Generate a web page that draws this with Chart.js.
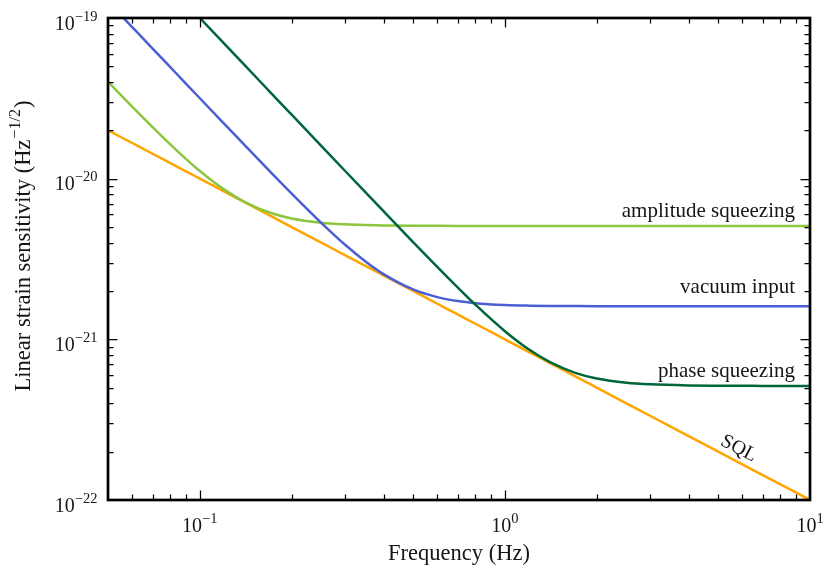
<!DOCTYPE html>
<html><head><meta charset="utf-8">
<script src="https://cdn.jsdelivr.net/npm/chart.js@4.4.0/dist/chart.umd.min.js"></script>
<style>html,body{margin:0;padding:0;background:#fff;}canvas{display:block;}</style>
</head><body>
<canvas id="c" width="825" height="565"></canvas>
<script>
// ---- data ----
const freqs = [0.05,0.06,0.07,0.08,0.09,0.1,0.12,0.14,0.17,0.2,0.25,0.3,0.35,0.4,0.5,0.6,0.7,0.8,1,1.2,1.4,1.7,2,2.5,3,4,5,7,10];
const sqlStrain = [20e-21,16.67e-21,14.29e-21,12.5e-21,11.11e-21,10e-21,8.333e-21,7.143e-21,5.882e-21,5e-21,4e-21,3.333e-21,2.857e-21,2.5e-21,2e-21,1.667e-21,1.429e-21,1.25e-21,1e-21,0.8333e-21,0.7143e-21,0.5882e-21,0.5e-21,0.4e-21,0.3333e-21,0.25e-21,0.2e-21,0.1429e-21,0.1e-21];
const vacuumStrain = [126.5e-21,87.86e-21,64.56e-21,49.44e-21,39.07e-21,31.66e-21,22.02e-21,16.21e-21,11.06e-21,8.067e-21,5.309e-21,3.863e-21,3.040e-21,2.547e-21,2.045e-21,1.831e-21,1.731e-21,1.680e-21,1.637e-21,1.621e-21,1.614e-21,1.610e-21,1.608e-21,1.607e-21,1.607e-21,1.606e-21,1.606e-21,1.606e-21,1.606e-21];
const amplitudeStrain = [40.12e-21,28.10e-21,20.93e-21,16.36e-21,13.29e-21,11.17e-21,8.574e-21,7.180e-21,6.135e-21,5.654e-21,5.321e-21,5.196e-21,5.142e-21,5.115e-21,5.093e-21,5.085e-21,5.081e-21,5.080e-21,5.078e-21,5.078e-21,5.077e-21,5.077e-21,5.077e-21,5.077e-21,5.077e-21,5.077e-21,5.077e-21,5.077e-21,5.077e-21];
const phaseStrain = [400e-21,277.8e-21,204.1e-21,156.2e-21,123.5e-21,100.0e-21,69.45e-21,51.02e-21,34.61e-21,25.01e-21,16.01e-21,11.12e-21,8.179e-21,6.271e-21,4.033e-21,2.825e-21,2.104e-21,1.644e-21,1.124e-21,0.8633e-21,0.7234e-21,0.6186e-21,0.5705e-21,0.5372e-21,0.5248e-21,0.5166e-21,0.5144e-21,0.5132e-21,0.5128e-21];

const xTickExponents = [-1, 0, 1];
const yTickExponents = [-22, -21, -20, -19];
const xRange = [0.05, 10];
const yRange = [1e-22, 1e-19];
const seriesNames = ['SQL', 'vacuum input', 'amplitude squeezing', 'phase squeezing'];
const xTitle = 'Frequency (Hz)';
const yTitleMain = 'Linear strain sensitivity (Hz';
const yTitleSup = '\u22121/2';
const yTitleEnd = ')';

const FONT = "'Liberation Serif','DejaVu Serif',serif";
const INK = '#161616';

function pts(vals){ return freqs.map((f,i)=>({x:f, y:vals[i]})); }

const inkPlugin = {
  id: 'ink',
  afterDatasetsDraw(chart){
    const {ctx, chartArea:a, scales:{x, y}} = chart;
    ctx.save();
    ctx.strokeStyle = '#000';
    ctx.lineWidth = 1.25;
    const majLen = 9.5, minLen = 5.5;
    function xt(v, len){
      const px = Math.round(x.getPixelForValue(v)) + 0.5;
      ctx.beginPath();
      ctx.moveTo(px, a.bottom); ctx.lineTo(px, a.bottom - len);
      ctx.moveTo(px, a.top); ctx.lineTo(px, a.top + len);
      ctx.stroke();
    }
    function yt(v, len){
      const py = Math.round(y.getPixelForValue(v)) + 0.5;
      ctx.beginPath();
      ctx.moveTo(a.left, py); ctx.lineTo(a.left + len, py);
      ctx.moveTo(a.right, py); ctx.lineTo(a.right - len, py);
      ctx.stroke();
    }
    for (let d = -2; d <= 1; d++) {
      for (let m = 1; m <= 9; m++) {
        const v = m * Math.pow(10, d);
        if (v <= xRange[0] * 1.0001 || v >= xRange[1] * 0.9999) continue;
        xt(v, m === 1 ? majLen : minLen);
      }
    }
    for (let d = -22; d <= -20; d++) {
      for (let m = 1; m <= 9; m++) {
        const v = m * Math.pow(10, d);
        if (v <= yRange[0] * 1.0001 || v >= yRange[1] * 0.9999) continue;
        yt(v, m === 1 ? majLen : minLen);
      }
    }
    ctx.lineWidth = 2.7;
    ctx.strokeRect(a.left, a.top, a.right - a.left, a.bottom - a.top);

    // tick labels
    ctx.fillStyle = INK;
    ctx.textBaseline = 'alphabetic';
    ctx.textAlign = 'left';
    const baseF = '20px ' + FONT, supF = '14.5px ' + FONT;
    function pow(e){
      ctx.font = baseF; const wb = ctx.measureText('10').width;
      const s = (e < 0 ? '\u2212' : '') + Math.abs(e);
      ctx.font = supF; const ws = ctx.measureText(s).width;
      return {s, wb, ws};
    }
    xTickExponents.forEach(e => {
      const p = pow(e);
      const cx = x.getPixelForValue(Math.pow(10, e));
      const start = cx - (p.wb + p.ws) / 2;
      ctx.font = baseF; ctx.fillText('10', start, 531.5);
      ctx.font = supF; ctx.fillText(p.s, start + p.wb, 522.5);
    });
    yTickExponents.forEach(e => {
      const p = pow(e);
      const cy = y.getPixelForValue(Math.pow(10, e));
      const start = 97.5 - (p.wb + p.ws);
      ctx.font = baseF; ctx.fillText('10', start, cy + 11.5);
      ctx.font = supF; ctx.fillText(p.s, start + p.wb, cy + 2.5);
    });

    // axis titles
    ctx.font = '22.5px ' + FONT;
    ctx.textAlign = 'center';
    ctx.fillText(xTitle, (a.left + a.right) / 2, 560);

    ctx.save();
    ctx.translate(29.5, 246);
    ctx.rotate(-Math.PI / 2);
    ctx.textAlign = 'left';
    ctx.font = '22.5px ' + FONT;
    const w1 = ctx.measureText(yTitleMain).width;
    const w3 = ctx.measureText(yTitleEnd).width;
    ctx.font = '16px ' + FONT;
    const w2 = ctx.measureText(yTitleSup).width;
    let sx = -(w1 + w2 + w3 + 2) / 2;
    ctx.font = '22.5px ' + FONT; ctx.fillText(yTitleMain, sx, 0);
    ctx.font = '16px ' + FONT; ctx.fillText(yTitleSup, sx + w1 + 1, -9.5);
    ctx.font = '22.5px ' + FONT; ctx.fillText(yTitleEnd, sx + w1 + w2 + 2, 0);
    ctx.restore();

    // curve labels
    ctx.font = '21px ' + FONT;
    ctx.textAlign = 'right';
    const rx = a.right - 15;
    const last = freqs.length - 1;
    ctx.fillText(seriesNames[2], rx, y.getPixelForValue(amplitudeStrain[last]) - 9.3);
    ctx.fillText(seriesNames[1], rx, y.getPixelForValue(vacuumStrain[last]) - 13);
    ctx.fillText(seriesNames[3], rx, y.getPixelForValue(phaseStrain[last]) - 9.3);

    // SQL label along the line
    const x0 = x.getPixelForValue(freqs[0]), y0 = y.getPixelForValue(sqlStrain[0]);
    const x1 = x.getPixelForValue(freqs[last]), y1 = y.getPixelForValue(sqlStrain[last]);
    const slope = (y1 - y0) / (x1 - x0);
    const ang = Math.atan(slope);
    const ax = 733, ay = y0 + (ax - x0) * slope;
    ctx.save();
    ctx.translate(ax, ay);
    ctx.rotate(ang);
    ctx.textAlign = 'center';
    ctx.font = '20px ' + FONT;
    ctx.fillText(seriesNames[0], 0, -7);
    ctx.restore();

    ctx.restore();
  }
};

const common = {fill:false, pointRadius:0, borderWidth:2.5, cubicInterpolationMode:'monotone', clip:0};
new Chart(document.getElementById('c'), {
  type: 'line',
  data: {
    datasets: [
      Object.assign({label: seriesNames[0], data: pts(sqlStrain), borderColor: '#FFA500', order: 4}, common),
      Object.assign({label: seriesNames[2], data: pts(amplitudeStrain), borderColor: '#8CC63F', order: 3}, common),
      Object.assign({label: seriesNames[1], data: pts(vacuumStrain), borderColor: '#4B5FD3', order: 2}, common),
      Object.assign({label: seriesNames[3], data: pts(phaseStrain), borderColor: '#00663A', order: 1}, common)
    ]
  },
  options: {
    responsive: false,
    animation: false,
    devicePixelRatio: 1,
    layout: {padding: {left: 108, top: 18, right: 15, bottom: 65}},
    plugins: {legend: {display: false}, tooltip: {enabled: false}},
    scales: {
      x: {type: 'logarithmic', min: xRange[0], max: xRange[1], display: false},
      y: {type: 'logarithmic', min: yRange[0], max: yRange[1], display: false}
    }
  },
  plugins: [inkPlugin]
});
</script>
</body></html>
